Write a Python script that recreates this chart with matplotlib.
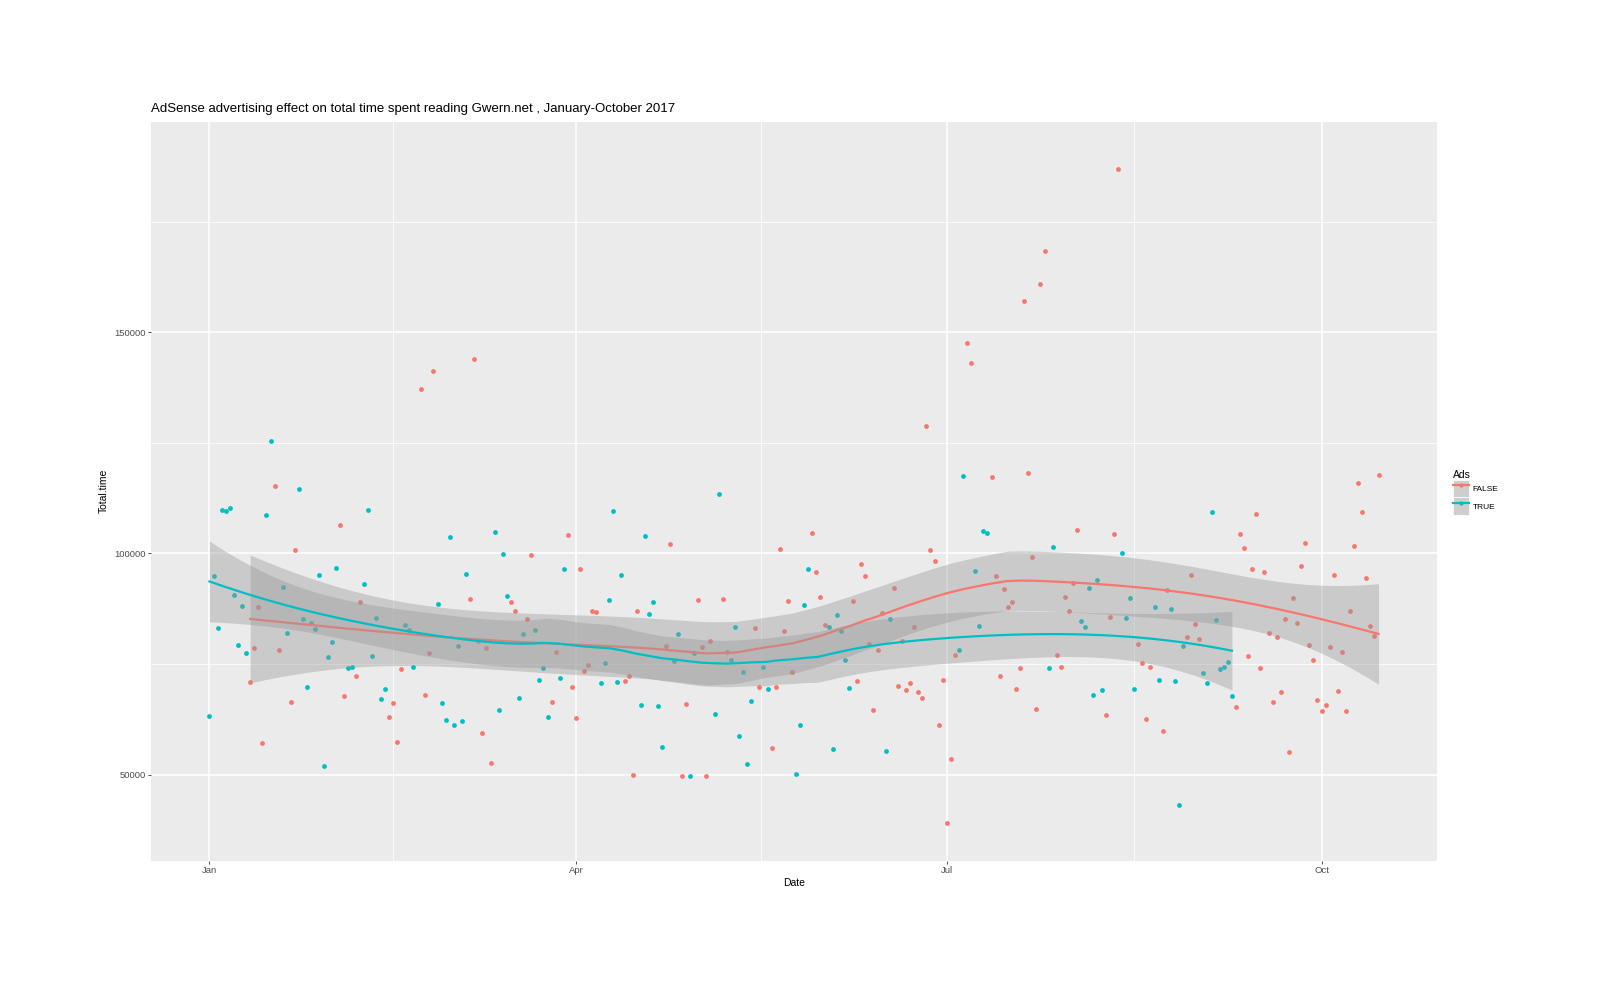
import numpy as np
import matplotlib
matplotlib.use("Agg")
import matplotlib.pyplot as plt
from matplotlib.patches import Patch
from matplotlib.lines import Line2D
from matplotlib.legend_handler import HandlerTuple

plt.rcParams['font.family'] = ['Liberation Sans', 'DejaVu Sans']

# days since 2017-01-01, total reading time (seconds), split by ads condition
true_day = [0, 1, 2, 3, 4, 5, 6, 7, 8, 9, 14, 15, 18, 19, 22, 23, 24, 25, 26, 27, 28, 29, 30, 31,
            34, 35, 38, 39, 40, 41, 42, 43, 48, 49, 50, 56, 57, 58, 59, 60, 61, 62, 63, 70, 71, 72, 73,
            76, 77, 80, 81, 82, 83, 86, 87, 96, 97, 98, 99, 100, 101, 106, 107, 108, 109, 110, 111,
            114, 115, 118, 119, 124, 125, 128, 129, 130, 131, 132, 133, 136, 137, 144, 145, 146, 147,
            152, 153, 154, 155, 156, 157, 166, 167, 184, 185, 188, 189, 190, 191, 206, 207,
            214, 215, 216, 217, 218, 219, 224, 225, 226, 227, 232, 233, 236, 237, 238, 239,
            244, 245, 246, 247, 248, 249, 250, 251]
true_time = [63200, 95000, 83200, 109900, 109600, 110300, 90700, 79300, 88200, 77500,
             108600, 125500, 92500, 82100,
             114500, 85100, 69900, 84200, 83000, 95100, 51900, 76500, 79900, 96700,
             74100, 74400, 93100, 109900, 76900, 85500, 67200, 69400, 83800, 82800, 74300,
             88600, 66200, 62300, 103800, 61200, 79000, 62100, 95400,
             104800, 64600, 99900, 90300, 67400, 81700, 82700, 71300, 74100, 63100, 71800, 96600,
             70700, 75300, 89400, 109500, 71000, 95200, 65800, 103900, 86400, 89100, 65500, 56200,
             75700, 81800, 49600, 77600, 63700, 113500,
             75900, 83300, 58700, 73200, 52400, 66600, 74300, 69400, 50100, 61300, 88300, 96500,
             83300, 55800, 86100, 82400, 75900, 69500, 55300, 85100, 78100, 117600,
             96000, 83500, 105100, 104600, 74100, 101400,
             84800, 83300, 92100, 68100, 93900, 69100, 100000, 85400, 90000, 69400,
             87800, 71400, 87400, 71200, 43200, 79000,
             72900, 70600, 109300, 84900, 73900, 74400, 75400, 67800]

false_day = [10, 11, 12, 13, 16, 17, 20, 21, 32, 33, 36, 37, 44, 45, 46, 47, 52, 53, 54, 55,
             64, 65, 66, 67, 68, 69, 74, 75, 78, 79, 84, 85, 88, 89, 90, 91, 92, 93, 94, 95,
             102, 103, 104, 105, 112, 113, 116, 117, 120, 121, 122, 123, 126, 127, 134, 135,
             138, 139, 140, 141, 142, 143, 148, 149, 150, 151, 158, 159, 160, 161, 162, 163, 164, 165,
             168, 169, 170, 171, 172, 173, 174, 175, 176, 177, 178, 179, 180, 181, 182, 183, 186, 187,
             192, 193, 194, 195, 196, 197, 198, 199, 200, 201, 202, 203, 204, 205,
             208, 209, 210, 211, 212, 213, 220, 221, 222, 223, 228, 229, 230, 231, 234, 235,
             240, 241, 242, 243, 252, 253, 254, 255, 256, 257, 258, 259, 260, 261, 262, 263,
             264, 265, 266, 267, 268, 269, 270, 271, 272, 273, 274, 275, 276, 277, 278, 279,
             280, 281, 282, 283, 284, 285, 286, 287]
false_time = [71000, 78700, 87900, 57200, 115200, 78200, 66400, 100700, 106500, 67800, 72300, 89100,
              63000, 66200, 57400, 73900, 137200, 67900, 77400, 141200,
              89700, 143900, 80200, 59300, 78700, 52600, 89100, 87000, 85100, 99700, 66500, 77800,
              104100, 69800, 62800, 96400, 73400, 74800, 87100, 86700,
              71200, 72200, 49800, 86900, 79100, 102100, 49600, 66000, 89400, 78900, 49600, 80100,
              89800, 77700, 83100, 69800,
              55900, 69800, 101100, 82400, 89200, 73200, 104600, 95700, 90100, 83900,
              89200, 71100, 97700, 95000, 79500, 64600, 78100, 86500,
              92300, 70100, 80200, 69200, 70600, 83300, 68600, 67400, 128900, 100800, 98300, 61200,
              71300, 39100, 53500, 77000, 147600, 143100,
              117300, 94800, 72400, 91900, 87900, 89100, 69400, 74100, 157200, 118200, 99300, 64900,
              160900, 168500,
              77000, 74300, 90200, 87100, 93400, 105400, 63500, 85600, 104400, 187000,
              79500, 75300, 62600, 74300, 59800, 91700, 81100, 95200, 84100, 80600,
              65300, 104400, 101300, 76800, 96600, 109000, 74100, 95800, 82000, 66300, 81200, 68600,
              85100, 55100, 90000, 84200, 97100, 102300, 79400, 75900, 66900, 64300, 65700, 78800,
              95100, 69000, 77700, 64300, 87100, 101700, 116000, 109300, 94500, 83600, 81300, 117700]

month_ticks = [0, 90, 181, 273]
month_labels = ['Jan', 'Apr', 'Jul', 'Oct']

red = '#F8766D'
teal = '#00BFC4'


def loess_band(x, y, n_out=80, span=0.75):
    # local quadratic loess (tricube weights) with 95% band, like R's loess()
    x = np.asarray(x, float)
    y = np.asarray(y, float)
    n = len(x)
    q = int(np.floor(n * span))

    def weights_row(x0):
        d = np.abs(x - x0)
        h = np.sort(d)[q - 1]
        w = np.clip(1 - (d / h) ** 3, 0, None) ** 3
        X = np.column_stack([np.ones(n), x - x0, (x - x0) ** 2])
        A = X.T @ (w[:, None] * X)
        return np.linalg.solve(A, (X * w[:, None]).T)[0]

    L = np.array([weights_row(v) for v in x])
    res = y - L @ y
    M = (np.eye(n) - L).T @ (np.eye(n) - L)
    d1 = np.trace(M)
    d2 = np.trace(M @ M)
    s = np.sqrt(np.sum(res ** 2) / d1)
    df = d1 ** 2 / d2
    z = 1.959964
    t = z + (z ** 3 + z) / (4 * df) + (5 * z ** 5 + 16 * z ** 3 + 3 * z) / (96 * df ** 2)

    xs = np.linspace(x.min(), x.max(), n_out)
    Ln = np.array([weights_row(v) for v in xs])
    fit = Ln @ y
    se = s * np.sqrt(np.sum(Ln ** 2, axis=1))
    return xs, fit, fit - t * se, fit + t * se


fig = plt.figure(figsize=(16, 9.89), dpi=100)
ax = fig.add_axes([151 / 1600, 1 - 861 / 989, (1437 - 151) / 1600, (861 - 121.5) / 989])
ax.set_facecolor('#EBEBEB')
for sp in ax.spines.values():
    sp.set_visible(False)

ax.scatter(false_day, false_time, s=12, color=red, linewidths=0, zorder=2)
ax.scatter(true_day, true_time, s=12, color=teal, linewidths=0, zorder=2)

# smooths drawn group by group: ribbon then line (as ggplot does)
z = 3
for d, v, c in [(false_day, false_time, red), (true_day, true_time, teal)]:
    xs, fit, lo, hi = loess_band(d, v)
    ax.fill_between(xs, lo, hi, color='#999999', alpha=0.4, linewidth=0, zorder=z)
    ax.plot(xs, fit, color=c, lw=1.6, zorder=z + 1)
    z += 2

ax.set_xlim(-14.35, 301.35)
ax.set_ylim(30450, 197700)

ax.set_xticks(month_ticks)
ax.set_xticklabels(month_labels)
ax.set_xticks([45, 135.5, 227], minor=True)
ax.set_yticks([50000, 100000, 150000])
ax.set_yticklabels(['50000', '100000', '150000'])
ax.set_yticks([75000, 125000, 175000], minor=True)
ax.grid(which='major', color='white', lw=1.1)
ax.grid(which='minor', color='white', lw=0.55)
ax.set_axisbelow(True)
ax.tick_params(which='major', length=2.5, width=0.6, color='#333333', pad=1.2,
               labelsize=6.8, labelcolor='#4D4D4D')
ax.tick_params(which='minor', length=0)

ax.set_xlabel('Date', fontsize=7.5, labelpad=2)
ax.set_ylabel('Total.time', fontsize=7.5, labelpad=4)
ax.set_title('AdSense advertising effect on total time spent reading Gwern.net , January-October 2017',
             loc='left', fontsize=9.5, pad=7)

handles = [(Patch(facecolor='#CECECE', edgecolor='white', lw=0.5),
            Line2D([], [], color=c, lw=1.6, marker='o', ms=3, mew=0)) for c in (red, teal)]
leg = fig.legend(handles, ['FALSE', 'TRUE'], handler_map={tuple: HandlerTuple(ndivide=1, pad=0)},
                 loc='upper left', bbox_to_anchor=(1451 / 1600, 1 - 468 / 989), frameon=False,
                 title='Ads', fontsize=6, title_fontsize=7.5, handlelength=2.0, handleheight=2.9,
                 handletextpad=0.4, labelspacing=0.0, borderaxespad=0, borderpad=0.2)
leg._legend_box.align = 'left'

fig.savefig('out.png', dpi=100)
